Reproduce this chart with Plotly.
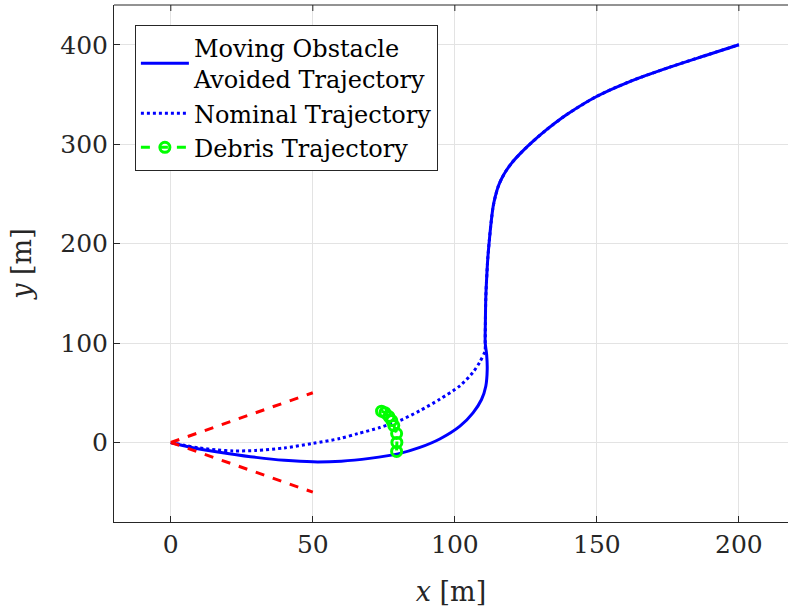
import plotly.graph_objects as go

# Avoided trajectory (solid): lower arc around the obstacle up to the climb
avoid_x = [0, 5, 10, 20, 30, 40, 50, 60, 70, 80, 87.7, 94.7, 101.8, 106.4, 109.4, 110.9, 111.4, 111.2]
avoid_y = [0, -3.5, -6.5, -11, -15, -18, -19.5, -18.8, -16, -11.5, -5, 3.5, 16.4, 29.8, 43.2, 56.6, 73.4, 88.4]

# Nominal trajectory (dotted): shallow arc before the climb
nom_x = [0, 5, 10, 16, 22, 30, 40, 50, 59.5, 66, 73.6, 80.6, 87.7, 94.7, 101.8, 106.4, 108.8, 110.6]
nom_y = [0, -3, -5.5, -7.5, -8.5, -8, -5.5, -1, 4, 9, 15, 22, 32, 43.5, 57, 70.5, 81, 91.8]

# Common climb shared by both trajectories
climb_x = [110.7, 110.75, 110.9, 111.2, 111.6, 112.2, 112.8, 113.5, 114.3, 115.3, 116.5, 118.0, 120.0,
           123.0, 127.0, 132.3, 139.3, 149.9, 161.6, 175.7, 188, 200]
climb_y = [100, 120, 145, 165, 185, 205, 222, 237.5, 248, 257.6, 265.5, 273, 281,
           290.5, 301.5, 314.6, 329.6, 348, 363, 377.5, 389, 400]

# Debris trajectory samples
debris_x = [74.2, 75.4, 76.8, 77.8, 78.5, 79.5, 79.6, 79.5]
debris_y = [31.5, 30, 26, 22, 17, 9, 0, -9]

# Sensing cone edges from the start point
cone_upper_x = [0, 50]
cone_upper_y = [0, 50]
cone_lower_x = [0, 50]
cone_lower_y = [0, -50]

x_ticks = [0, 50, 100, 150, 200]
y_ticks = [0, 100, 200, 300, 400]
x_range = [-20, 217.3]
y_range = [-80, 440]

FONT = "DejaVu Serif"
INK = "#262626"

fig = go.Figure()

fig.add_trace(go.Scatter(
    x=nom_x + climb_x, y=nom_y + climb_y, mode="lines",
    name="Nominal Trajectory", legendrank=2,
    line=dict(color="#0000FF", width=3, dash="dot", shape="spline", smoothing=0.8),
))
fig.add_trace(go.Scatter(
    x=avoid_x + climb_x, y=avoid_y + climb_y, mode="lines",
    name="Moving Obstacle<br>Avoided Trajectory", legendrank=1,
    line=dict(color="#0000FF", width=3, shape="spline", smoothing=0.8),
))
fig.add_trace(go.Scatter(
    x=debris_x, y=debris_y, mode="lines+markers",
    name="Debris Trajectory", legendrank=3,
    line=dict(color="#00FF00", width=3, dash="dash"),
    marker=dict(symbol="circle-open", size=10, color="#00FF00", line=dict(width=3, color="#00FF00")),
))
for cx, cy in ((cone_upper_x, cone_upper_y), (cone_lower_x, cone_lower_y)):
    fig.add_trace(go.Scatter(
        x=cx, y=cy, mode="lines", showlegend=False,
        line=dict(color="#FF0000", width=3, dash="dash"),
    ))

axis_common = dict(
    showgrid=True, gridcolor="#E3E3E3", gridwidth=1,
    zeroline=False, showline=True, linecolor=INK, linewidth=1,
    ticks="inside", ticklen=6, tickcolor=INK, tickwidth=1,
    tickfont=dict(family=FONT, size=25, color=INK),
)

fig.update_xaxes(
    range=x_range, tickvals=x_ticks, mirror=False,
    title=dict(text="<i>x</i> [m]", font=dict(family=FONT, size=27, color=INK), standoff=24),
    **axis_common,
)
fig.update_yaxes(
    range=y_range, tickvals=y_ticks, mirror=False,
    title=dict(text="<i>y</i> [m]", font=dict(family=FONT, size=27, color=INK), standoff=20),
    **axis_common,
)

# Top frame edge with inward ticks at the x tick positions
plot_h = 612 - 5 - 90
tick_frac = 6 / plot_h
fig.add_shape(type="line", xref="paper", yref="paper", x0=0, x1=1, y0=1, y1=1,
              line=dict(color=INK, width=1), layer="above")
for tv in x_ticks:
    fig.add_shape(type="line", xref="x", yref="paper", x0=tv, x1=tv, y0=1, y1=1 - tick_frac,
                  line=dict(color=INK, width=1), layer="above")

fig.update_layout(
    width=788, height=612,
    margin=dict(l=114, r=0, t=5, b=90),
    plot_bgcolor="white", paper_bgcolor="white",
    showlegend=True,
    legend=dict(
        x=0.031, y=0.962, xanchor="left", yanchor="top",
        bgcolor="white", bordercolor=INK, borderwidth=1,
        font=dict(family=FONT, size=24, color="black"),
        tracegroupgap=0, itemwidth=48,
    ),
)

fig.write_html("out.html")
